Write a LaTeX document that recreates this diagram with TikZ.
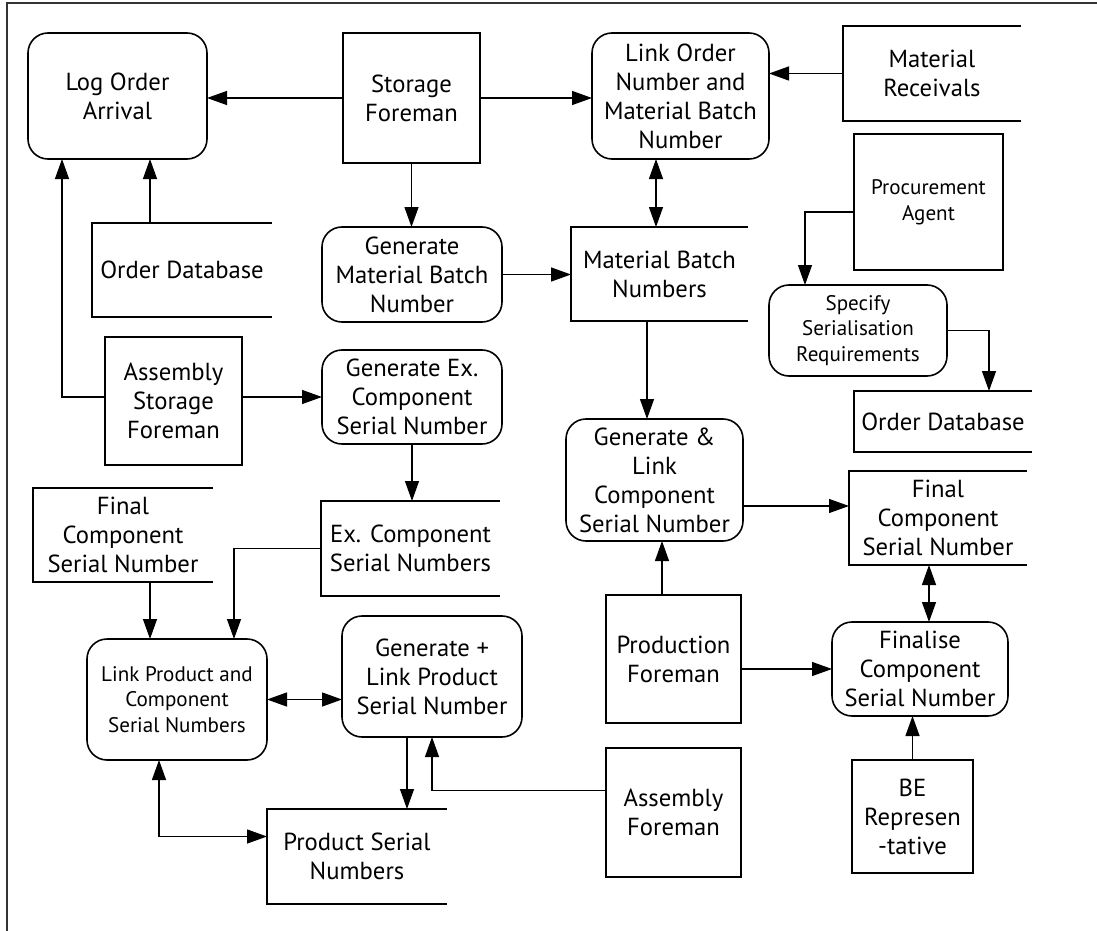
\documentclass[tikz,border=0pt]{standalone}
\usepackage{fontspec}
\setmainfont{PT Sans}
\usetikzlibrary{arrows.meta,calc}

\begin{document}
\begin{tikzpicture}[x=0.75pt,y=-0.75pt,
  base/.style={align=center, inner sep=0pt, outer sep=0pt,
    font=\fontsize{18.5}{21.75}\selectfont, line width=1.2pt},
  small/.style={font=\fontsize{15.8}{19.2}\selectfont},
  proc/.style={base, draw, rounded corners=15pt},
  actor/.style={base, draw},
  store/.style={base},
  bx/.style n args={4}{minimum width={(#3-#1)*0.75pt},
    minimum height={(#4-#2)*0.75pt}, at={({(#1+#3)/2},{(#2+#4)/2})}},
  tip/.style={Triangle[length=15pt,width=10.5pt]},
  arr/.style={line width=1pt, -{Triangle[length=15pt,width=10.5pt]}},
  darr/.style={line width=1pt, {Triangle[length=15pt,width=10.5pt]}-{Triangle[length=15pt,width=10.5pt]}},
  side/.style={line width=1.2pt}
]
\useasboundingbox (0,0) rectangle (1097,931);

% outer frame (top and left edges)
\draw[line width=1.5pt, black!80] (6.5,931) -- (6.5,3.5) -- (1097,3.5);

% processes
\node[proc, bx={28}{33}{207}{159}]   (loa)  {Log Order\\Arrival};
\node[proc, bx={592}{33}{769}{159}]  (lon)  {Link Order\\Number and\\Material Batch\\Number};
\node[proc, bx={322}{227}{502}{322}] (gmb)  {Generate\\Material Batch\\Number};
\node[proc, small, bx={769}{285}{947}{376}] (spec) {Specify\\Serialisation\\Requirements};
\node[proc, bx={322}{350}{502}{444}] (gex)  {Generate Ex.\\Component\\Serial Number};
\node[proc, bx={566}{419}{743}{541}] (gl)   {Generate \&\\Link\\Component\\Serial Number};
\node[proc, bx={342}{616}{522}{737}] (gp)   {Generate +\\Link Product\\Serial Number};
\node[proc, bx={832}{622}{1008}{716}] (fin) {Finalise\\Component\\Serial Number};
\node[proc, small, bx={87}{639}{267}{760}] (lp) {Link Product and\\Component\\Serial Numbers};

% actors
\node[actor, bx={343}{33}{480}{163}]  (sf)  {Storage\\Foreman};
\node[actor, small, bx={854}{134}{1003}{270}] (pa) {Procurement\\Agent};
\node[actor, bx={105}{337}{242}{465}] (asf) {Assembly\\Storage\\Foreman};
\node[actor, bx={606}{595}{741}{723}] (pf)  {Production\\Foreman};
\node[actor, bx={606}{748}{741}{877}] (af)  {Assembly\\Foreman};
\node[actor, bx={852}{760}{973}{873}] (be)  {BE\\Represen\\-tative};

% data stores (open on the right)
\node[store, bx={843}{26}{1021}{121}]  (mr)  {Material\\Receivals};
\node[store, bx={92}{223}{272}{317}]   (od1) {Order Database};
\node[store, bx={571}{227}{748}{321}]  (mbn) {Material Batch\\Numbers};
\node[store, bx={854}{391}{1032}{452}] (od2) {Order Database};
\node[store, bx={849}{471}{1027}{565}] (fc2) {Final\\Component\\Serial Number};
\node[store, bx={33}{488}{213}{582}]   (fc1) {Final\\Component\\Serial Number};
\node[store, bx={321}{501}{500}{596}]  (exc) {Ex. Component\\Serial Numbers};
\node[store, bx={267}{809}{447}{904}]  (psn) {Product Serial\\Numbers};
\foreach \s in {mr,od1,mbn,od2,fc2,fc1,exc,psn}
  \draw[side] (\s.north east) -| (\s.south west) -- (\s.south east);

% connector anchor points
\coordinate (odA)  at ($(od1.north west)+(58,0)$);
\coordinate (loaA) at ($(loa.south west)+(34,0)$);
\coordinate (mbnA) at ($(mbn.north west)+(85,0)$);
\coordinate (mbnB) at ($(mbn.south west)+(76,0)$);
\coordinate (paA)  at ($(pa.west)+(0,10)$);
\coordinate (specA) at ($(spec.north west)+(36,0)$);
\coordinate (od2A) at ($(od2.north west)+(135,0)$);
\coordinate (glA)  at ($(gl.east)+(0,26)$);
\coordinate (pfA)  at ($(pf.north west)+(56,0)$);
\coordinate (fc2A) at ($(fc2.south west)+(80,0)$);
\coordinate (lpA)  at ($(lp.north west)+(147,0)$);
\coordinate (fc1A) at ($(fc1.south west)+(117,0)$);
\coordinate (gpA)  at ($(gp.south west)+(65,0)$);
\coordinate (gpB)  at ($(gp.south west)+(90,0)$);
\coordinate (afA)  at ($(af.west)+(0,-22)$);
\coordinate (lpB)  at ($(lp.south west)+(72,0)$);
\coordinate (psnA) at ($(psn.west)+(0,-20)$);

% connectors
\draw[arr] (sf.west) -- (sf.west -| loa.east);
\draw[arr] (sf.east) -- (sf.east -| lon.west);
\draw[arr] (sf.south) -- (sf.south |- gmb.north);
\draw[arr] (odA) -- (odA |- loa.south);
\draw[arr] (asf.west |- gex.west) -| (loaA);
\draw[arr] (asf.east |- gex.west) -- (gex.west);
\draw[arr] (mr.west) -- (mr.west -| lon.east);
\draw[darr] (mbnA |- lon.south) -- (mbnA);
\draw[arr] (gmb.east) -- (gmb.east -| mbn.west);
\draw[arr] (paA) -| (specA);
\draw[arr] (spec.east) -| (od2A);
\draw[arr] (mbnB) -- (mbnB |- gl.north);
\draw[arr] (glA) -- (glA -| fc2.west);
\draw[arr] (pfA) -- (pfA |- gl.south);
\draw[darr] (fc2A) -- (fc2A |- fin.north);
\draw[arr] (fin.west -| pf.east) -- (fin.west);
\draw[arr] (be.north) -- (be.north |- fin.south);
\draw[arr] (gex.south) -- (gex.south |- exc.north);
\draw[arr] (exc.west) -| (lpA);
\draw[arr] (fc1A) -- (fc1A |- lp.north);
\draw[darr] (lp.east) -- (lp.east -| gp.west);
\draw[arr] (gpA) -- (gpA |- psn.north);
\draw[arr] (afA) -| (gpB);
\draw[darr] (lpB) |- (psnA);
\end{tikzpicture}
\end{document}
